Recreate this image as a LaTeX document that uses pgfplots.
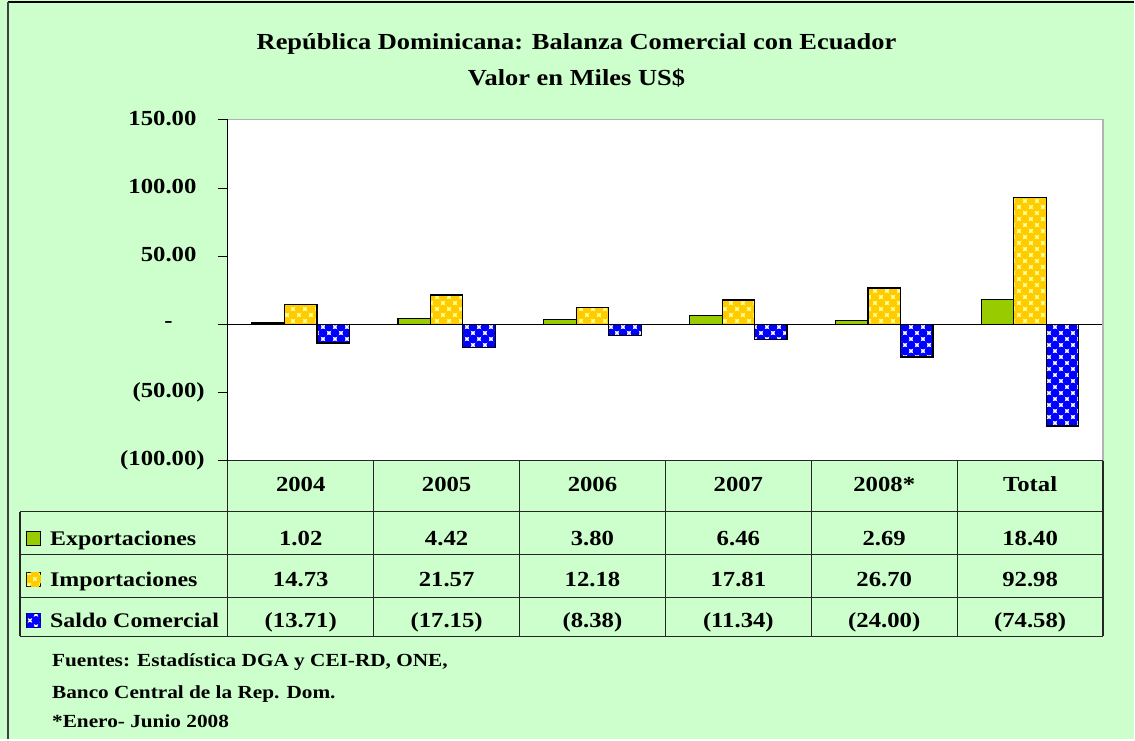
\documentclass[border=0pt]{standalone}
\usepackage{fontspec}
\setmainfont[FakeStretch=1.15]{Liberation Serif}
\usepackage{pgfplots}
\pgfplotsset{compat=1.18}
\usetikzlibrary{patterns}

\definecolor{bggreen}{HTML}{CCFFCC}
\definecolor{exgreen}{HTML}{99CC00}
\definecolor{imbase}{HTML}{FFFF99}
\definecolor{imdot}{HTML}{FFCC00}
\definecolor{sablue}{HTML}{0000FF}

\pgfdeclarepatternformonly{circchk}{\pgfqpoint{0pt}{0pt}}{\pgfqpoint{12pt}{12pt}}{\pgfqpoint{12pt}{12pt}}{%
  \pgfpathcircle{\pgfqpoint{0pt}{0pt}}{4.5pt}
  \pgfpathcircle{\pgfqpoint{12pt}{0pt}}{4.5pt}
  \pgfpathcircle{\pgfqpoint{0pt}{12pt}}{4.5pt}
  \pgfpathcircle{\pgfqpoint{12pt}{12pt}}{4.5pt}
  \pgfpathcircle{\pgfqpoint{6pt}{6pt}}{4.5pt}
  \pgfusepath{fill}}

\tikzset{
  exsty/.style={fill=exgreen, draw=black, line width=1.2pt},
  imsty/.style={fill=imbase, draw=black, line width=1.2pt, postaction={pattern=circchk, pattern color=imdot}},
  sasty/.style={fill=white, draw=black, line width=1.2pt, postaction={pattern=circchk, pattern color=sablue}},
}
\newcommand{\tf}{\fontsize{21.5}{25}\selectfont\bfseries}
\newcommand{\lf}{\fontsize{20.8}{25}\selectfont\bfseries}
\newcommand{\hf}{\fontsize{23}{27}\selectfont\bfseries}
\newcommand{\ff}{\fontsize{18.5}{22}\selectfont\bfseries}

\begin{document}
\begin{tikzpicture}
% background and frame
\fill[bggreen] (0pt,0pt) rectangle (1135pt,740pt);
\draw[black, line width=2pt] (8pt,738pt) -- (1135pt,738pt);
\draw[black!75, line width=2pt] (8pt,738pt) -- (8pt,0pt);

\begin{axis}[
  at={(228pt,279pt)}, anchor=south west,
  scale only axis, width=876pt, height=341pt,
  xmin=-0.5, xmax=5.5, ymin=-100, ymax=150,
  ybar=0pt, bar width=32.5pt,
  xtick=\empty,
  ytick={-100,-50,0,50,100,150},
  ytick pos=left,
  yticklabels={(100.00),(50.00),{-\hspace*{32pt}},{50.00\phantom{)}},{100.00\phantom{)}},{150.00\phantom{)}}},
  yticklabel style={font=\tf, anchor=east, inner sep=0pt, xshift=-13pt},
  tick align=outside, major tick length=10pt,
  ytick style={draw=black, line width=1pt},
  axis line style={draw=none},
  axis background/.style={fill=white},
  clip=false,
]
\draw[black, line width=1pt] (axis cs:-0.5,0) -- (axis cs:5.5,0);
\addplot[exsty] coordinates {(0,1.02) (1,4.42) (2,3.80) (3,6.46) (4,2.69) (5,18.40)};
\addplot[imsty] coordinates {(0,14.73) (1,21.57) (2,12.18) (3,17.81) (4,26.70) (5,92.98)};
\addplot[sasty] coordinates {(0,-13.71) (1,-17.15) (2,-8.38) (3,-11.34) (4,-24.00) (5,-74.58)};
\draw[black!30, line width=1.2pt] (rel axis cs:0,1) -- (rel axis cs:1,1) -- (rel axis cs:1,0);
\draw[black, line width=1.2pt] (rel axis cs:0,0) -- (rel axis cs:0,1);
\end{axis}

% titles
\node[font=\hf, anchor=base, inner sep=0pt] at (577pt,690pt) {República Dominicana: Balanza Comercial con Ecuador};
\node[font=\hf, anchor=base, inner sep=0pt] at (577pt,654pt) {Valor en Miles US\$};

% table grid
\begin{scope}[line width=1.2pt, black!85]
\draw (228pt,279pt) -- (1104pt,279pt);
\foreach \yy in {228,185,142,103} \draw (20pt,\yy pt) -- (1104pt,\yy pt);
\draw (20pt,228pt) -- (20pt,103pt);
\foreach \xx in {228,374,520,666,812,958,1104} \draw (\xx pt,279pt) -- (\xx pt,103pt);
\end{scope}

% header
\foreach \xx/\tt in {301/2004,447/2005,593/2006,739/2007,885/2008*,1031/Total}
  \node[font=\tf, anchor=base, inner sep=0pt] at (\xx pt,248pt) {\tt};
% rows
\foreach \xx/\tt in {301/1.02,447/4.42,593/3.80,739/6.46,885/2.69,1031/18.40}
  \node[font=\tf, anchor=base, inner sep=0pt] at (\xx pt,194pt) {\tt};
\foreach \xx/\tt in {301/14.73,447/21.57,593/12.18,739/17.81,885/26.70,1031/92.98}
  \node[font=\tf, anchor=base, inner sep=0pt] at (\xx pt,153pt) {\tt};
\foreach \xx/\tt in {301/(13.71),447/(17.15),593/(8.38),739/(11.34),885/(24.00),1031/(74.58)}
  \node[font=\tf, anchor=base, inner sep=0pt] at (\xx pt,112pt) {\tt};

% row labels with legend keys
\draw[exsty, line width=1pt] (27pt,194pt) rectangle (41pt,208pt);
\draw[imsty, line width=1pt] (27pt,153pt) rectangle (41pt,167pt);
\draw[sasty, line width=1pt] (27pt,112pt) rectangle (41pt,126pt);
\node[font=\lf, anchor=base west, inner sep=0pt] at (50pt,194pt) {Exportaciones};
\node[font=\lf, anchor=base west, inner sep=0pt] at (50pt,153pt) {Importaciones};
\node[font=\lf, anchor=base west, inner sep=0pt] at (50pt,112pt) {Saldo Comercial};

% footnotes
\node[font=\ff, anchor=base west, inner sep=0pt] at (52pt,73pt) {Fuentes: Estadística DGA y CEI-RD, ONE,};
\node[font=\ff, anchor=base west, inner sep=0pt] at (52pt,41pt) {Banco Central de la Rep. Dom.};
\node[font=\ff, anchor=base west, inner sep=0pt] at (52pt,12pt) {*Enero- Junio 2008};
\end{tikzpicture}
\end{document}
